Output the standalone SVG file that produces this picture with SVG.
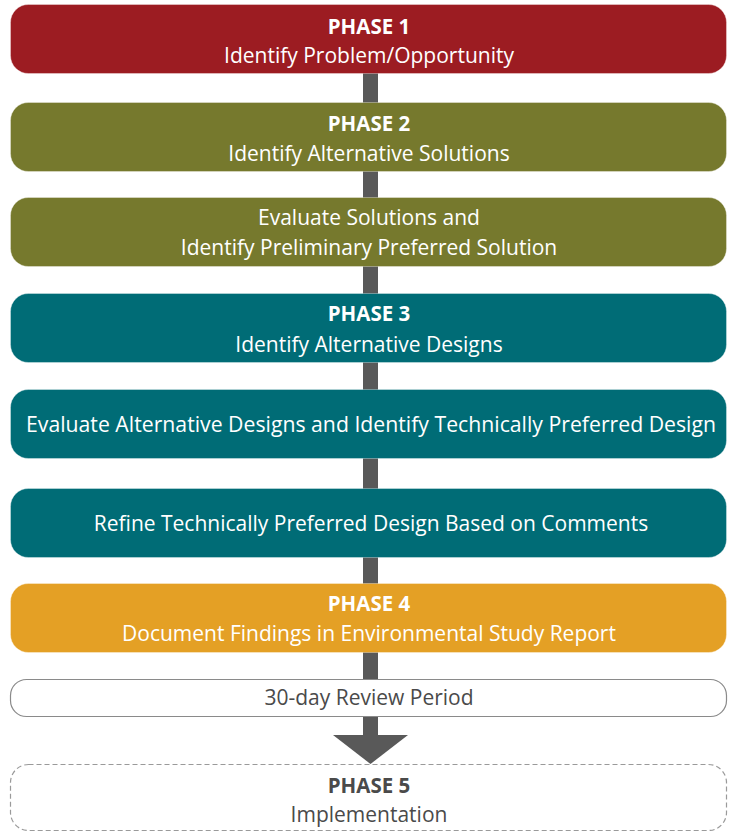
<svg xmlns="http://www.w3.org/2000/svg" width="734" height="831" viewBox="0 0 734 831">
  <style>
    .box { stroke: #ffffff; stroke-opacity: 0.35; stroke-width: 1; }
    .red { fill: #9c1c22; }
    .olive { fill: #76792d; }
    .teal { fill: #006c76; }
    .orange { fill: #e4a025; }
    .t { font-family: "Open Sans", "Noto Sans", "Liberation Sans", sans-serif; fill: #ffffff; text-anchor: middle; font-size: 21px; }
    .h { font-weight: bold; font-size: 20.5px; }
    .dark { fill: #4a4a4a; }
  </style>

  <!-- connector spine with arrowhead into the final phase -->
  <g id="connectors">
    <rect x="363" y="70" width="15" height="666" fill="#595959"/>
    <polygon points="333,735 408,735 370.5,764" fill="#595959"/>
  </g>

  <g id="phase1">
    <rect class="box red" x="10.5" y="4.5" width="716" height="69" rx="18"/>
    <text class="t h" x="369" y="34">PHASE 1</text>
    <text class="t" x="369" y="63">Identify Problem/Opportunity</text>
  </g>

  <g id="phase2">
    <rect class="box olive" x="10.5" y="102.5" width="716" height="69" rx="18"/>
    <text class="t h" x="369" y="131">PHASE 2</text>
    <text class="t" x="369" y="161">Identify Alternative Solutions</text>
  </g>

  <g id="evaluate-solutions">
    <rect class="box olive" x="10.5" y="197.5" width="716" height="69" rx="18"/>
    <text class="t" x="369" y="225">Evaluate Solutions and</text>
    <text class="t" x="369" y="255">Identify Preliminary Preferred Solution</text>
  </g>

  <g id="phase3">
    <rect class="box teal" x="10.5" y="293.5" width="716" height="69" rx="18"/>
    <text class="t h" x="369" y="321">PHASE 3</text>
    <text class="t" x="369" y="352">Identify Alternative Designs</text>
  </g>

  <g id="evaluate-designs">
    <rect class="box teal" x="10.5" y="389.5" width="716" height="69" rx="18"/>
    <text class="t" x="371" y="432" textLength="690" lengthAdjust="spacingAndGlyphs">Evaluate Alternative Designs and Identify Technically Preferred Design</text>
  </g>

  <g id="refine-design">
    <rect class="box teal" x="10.5" y="488.5" width="716" height="69" rx="18"/>
    <text class="t" x="371" y="531">Refine Technically Preferred Design Based on Comments</text>
  </g>

  <g id="phase4">
    <rect class="box orange" x="10.5" y="583.5" width="716" height="69" rx="18"/>
    <text class="t h" x="369" y="611">PHASE 4</text>
    <text class="t" x="369" y="641">Document Findings in Environmental Study Report</text>
  </g>

  <g id="review-period">
    <rect x="10.5" y="679.5" width="716" height="37" rx="16" fill="#ffffff" stroke="#8a8a8a" stroke-width="1.2"/>
    <text class="t dark" x="369" y="705">30-day Review Period</text>
  </g>

  <g id="phase5">
    <rect x="10.5" y="764.5" width="716" height="66" rx="18" fill="#ffffff" stroke="#9a9a9a" stroke-width="1.2" stroke-dasharray="5,3"/>
    <text class="t h dark" x="369" y="793">PHASE 5</text>
    <text class="t dark" x="369" y="822">Implementation</text>
  </g>
</svg>
